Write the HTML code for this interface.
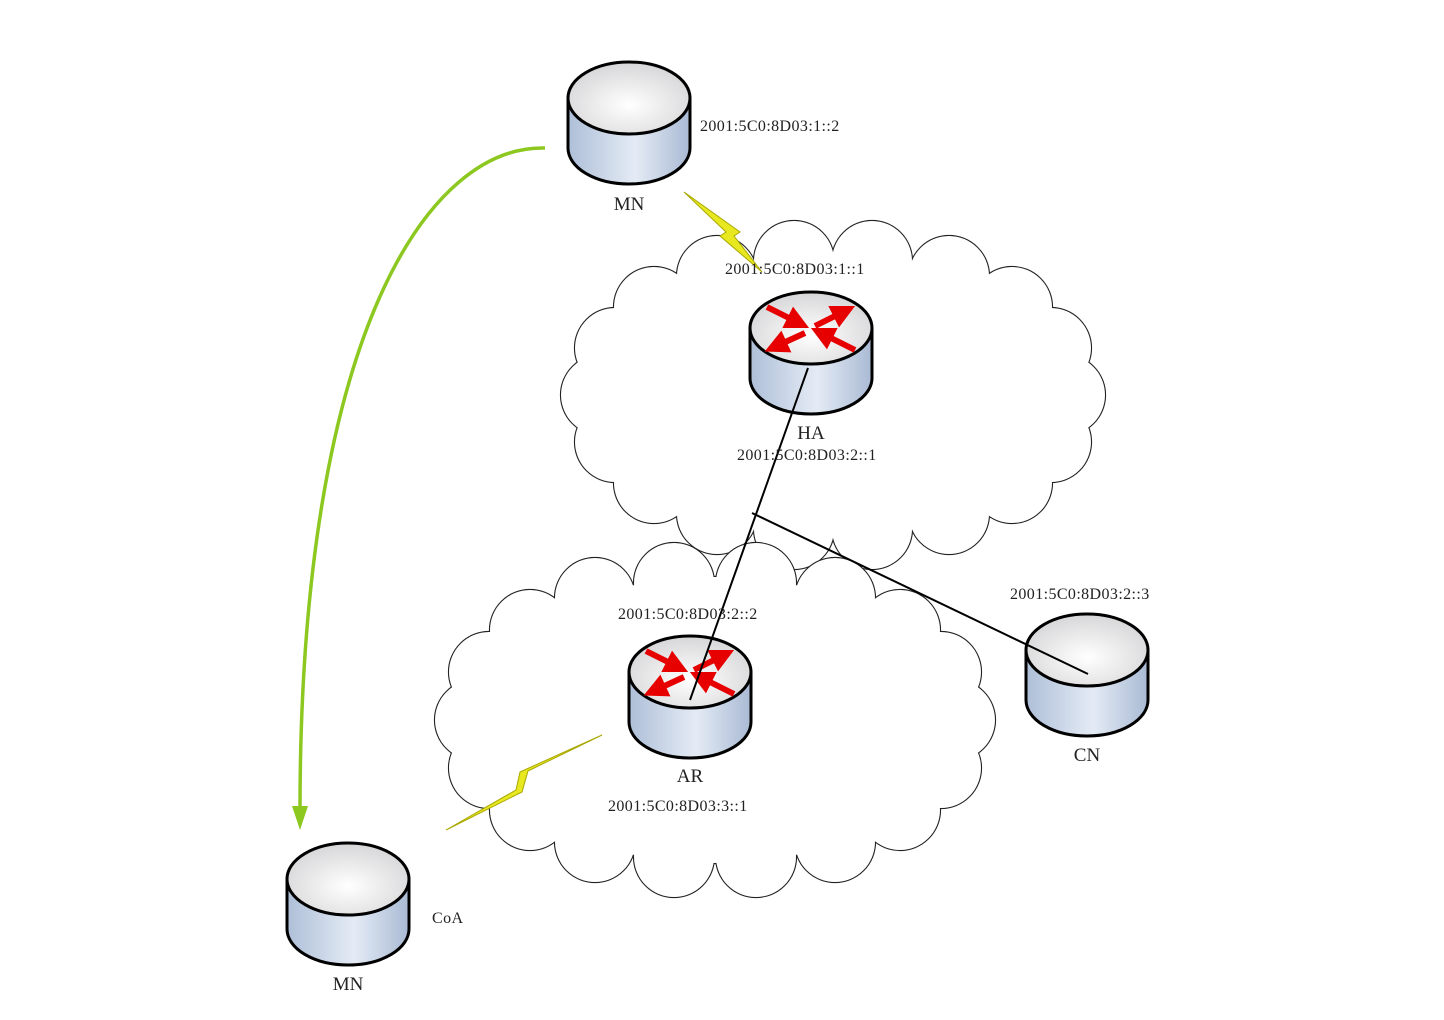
<!DOCTYPE html>
<html><head><meta charset="utf-8"><style>
html,body{margin:0;padding:0;background:#fff}
svg{display:block}
text{font-family:"Liberation Serif",serif;fill:#222}
</style></head><body>
<svg width="1444" height="1020" viewBox="0 0 1444 1020" xmlns="http://www.w3.org/2000/svg">
<defs>
<linearGradient id="side" x1="0" x2="1" y1="0" y2="0">
<stop offset="0" stop-color="#aebfd8"/><stop offset="0.55" stop-color="#e4ebf5"/><stop offset="1" stop-color="#a9bad4"/>
</linearGradient>
<radialGradient id="top" cx="0.5" cy="0.6" r="0.6">
<stop offset="0" stop-color="#ffffff"/><stop offset="1" stop-color="#d6d6d8"/>
</radialGradient>
<marker id="ah" markerWidth="4" markerHeight="4" refX="1" refY="2" orient="auto" markerUnits="strokeWidth">
<path d="M0,0 L4,2 L0,4 Z" fill="#e60000"/>
</marker>
<g id="cyl">
<path d="M-61,36 L-61,86 A61,36 0 0 0 61,86 L61,36 Z" fill="url(#side)" stroke="#000" stroke-width="3"/>
<ellipse cx="0" cy="36" rx="61" ry="36" fill="url(#top)" stroke="#000" stroke-width="3"/>
</g>
<g id="arrows" stroke="#e60000" stroke-width="6" fill="none" marker-end="url(#ah)">
<line x1="-44" y1="-21" x2="-18" y2="-8"/>
<line x1="4" y1="-2" x2="28" y2="-14"/>
<line x1="-6" y1="5" x2="-30" y2="16"/>
<line x1="44" y1="22" x2="16" y2="8"/>
</g>
<g id="c1s"><circle cx="1065" cy="395" r="40"/><circle cx="1051" cy="442" r="40"/><circle cx="1012" cy="483" r="40"/><circle cx="949" cy="514" r="40"/><circle cx="872" cy="529" r="40"/><circle cx="794" cy="529" r="40"/><circle cx="717" cy="514" r="40"/><circle cx="654" cy="483" r="40"/><circle cx="615" cy="442" r="40"/><circle cx="601" cy="395" r="40"/><circle cx="615" cy="348" r="40"/><circle cx="654" cy="307" r="40"/><circle cx="717" cy="276" r="40"/><circle cx="794" cy="261" r="40"/><circle cx="872" cy="261" r="40"/><circle cx="949" cy="276" r="40"/><circle cx="1012" cy="307" r="40"/><circle cx="1051" cy="348" r="40"/><ellipse cx="833" cy="395" rx="235" ry="140"/></g>
<g id="c2s"><circle cx="955" cy="720" r="40"/><circle cx="941" cy="768" r="40"/><circle cx="900" cy="810" r="40"/><circle cx="835" cy="842" r="40"/><circle cx="756" cy="857" r="40"/><circle cx="674" cy="857" r="40"/><circle cx="595" cy="842" r="40"/><circle cx="530" cy="810" r="40"/><circle cx="489" cy="768" r="40"/><circle cx="475" cy="720" r="40"/><circle cx="489" cy="672" r="40"/><circle cx="530" cy="630" r="40"/><circle cx="595" cy="598" r="40"/><circle cx="674" cy="583" r="40"/><circle cx="756" cy="583" r="40"/><circle cx="835" cy="598" r="40"/><circle cx="900" cy="630" r="40"/><circle cx="941" cy="672" r="40"/><ellipse cx="715" cy="720" rx="243" ry="143"/></g>
</defs>

<use href="#c1s" fill="none" stroke="#222" stroke-width="2.2"/>
<use href="#c1s" fill="#fff"/>
<use href="#c2s" fill="none" stroke="#222" stroke-width="2.2"/>
<use href="#c2s" fill="#fff"/>

<path d="M545,148 C430,145 300,330 300,810" fill="none" stroke="#8cc820" stroke-width="3.5"/>
<polygon points="292,806 308,806 300,830" fill="#8cc820"/>

<polygon points="684,192 726,232 720,236 762,272 734,236 740,232" fill="#e8e820" stroke="#a8a800" stroke-width="1"/>
<polygon points="602,735 528,771 522,792 446,830 516,790 520,772" fill="#e8e820" stroke="#a8a800" stroke-width="1"/>

<use href="#cyl" x="629" y="62"/>
<use href="#cyl" x="811" y="292"/>
<use href="#arrows" x="811" y="328"/>
<use href="#cyl" x="690" y="636"/>
<use href="#arrows" x="690" y="672"/>
<use href="#cyl" x="1087" y="614"/>
<use href="#cyl" x="348" y="843"/>

<line x1="808" y1="368" x2="690" y2="700" stroke="#000" stroke-width="2"/>
<line x1="752" y1="513" x2="1088" y2="674" stroke="#000" stroke-width="2"/>

<g font-size="16" letter-spacing="0.4">
<text x="700" y="131">2001:5C0:8D03:1::2</text>
<text x="725" y="274">2001:5C0:8D03:1::1</text>
<text x="737" y="460">2001:5C0:8D03:2::1</text>
<text x="618" y="619">2001:5C0:8D03:2::2</text>
<text x="1010" y="599">2001:5C0:8D03:2::3</text>
<text x="608" y="811">2001:5C0:8D03:3::1</text>
<text x="432" y="923">CoA</text>
</g>
<g font-size="19" text-anchor="middle">
<text x="629" y="210">MN</text>
<text x="811" y="439">HA</text>
<text x="690" y="782">AR</text>
<text x="1087" y="761">CN</text>
<text x="348" y="990">MN</text>
</g>
</svg>
</body></html>
